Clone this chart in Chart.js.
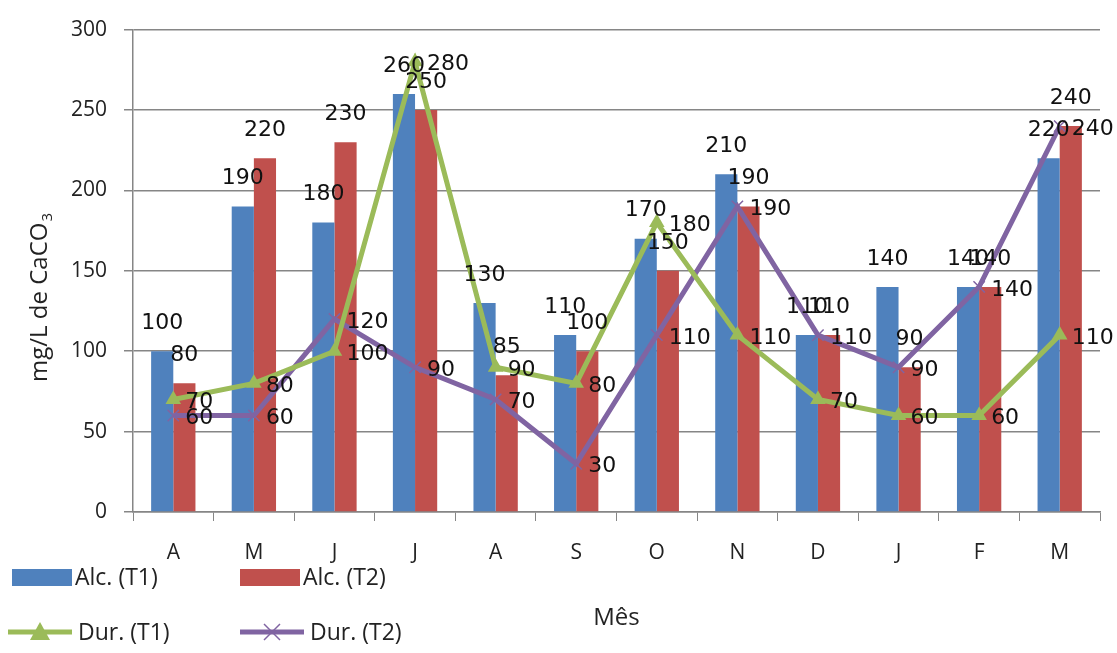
<!DOCTYPE html>
<html>
<head>
<meta charset="utf-8">
<script src="https://cdn.jsdelivr.net/npm/chart.js@4.4.0/dist/chart.umd.min.js"></script>
<style>
  html, body { margin: 0; padding: 0; background: #fff; }
  #wrap { width: 1117px; height: 653px; }
</style>
</head>
<body>
<div id="wrap"><canvas id="chart"></canvas></div>
<script>
// Data
const months = ["A", "M", "J", "J", "A", "S", "O", "N", "D", "J", "F", "M"];
const alcT1 = [100, 190, 180, 260, 130, 110, 170, 210, 110, 140, 140, 220];
const alcT2 = [80, 220, 230, 250, 85, 100, 150, 190, 110, 90, 140, 240];
const durT1 = [70, 80, 100, 280, 90, 80, 180, 110, 70, 60, 60, 110];
const durT2 = [60, 60, 120, 90, 70, 30, 110, 190, 110, 90, 140, 240];
const seriesNames = ["Alc. (T1)", "Alc. (T2)", "Dur. (T1)", "Dur. (T2)"];

const BLUE = "#4F81BD", RED = "#C0504D", GREEN = "#9BBB59", PURPLE = "#8064A2";
const AXIS_FONT = '"Open Sans", "Liberation Sans", sans-serif';
const LABEL_FONT = '"DejaVu Sans", Verdana, sans-serif';

// value labels: above bars, right of line points
const valueLabels = {
  id: "valueLabels",
  afterDatasetsDraw(chart) {
    const ctx = chart.ctx;
    ctx.save();
    ctx.font = "22px " + LABEL_FONT;
    ctx.fillStyle = "#111";
    chart.data.datasets.forEach((ds, i) => {
      const meta = chart.getDatasetMeta(i);
      meta.data.forEach((el, j) => {
        const v = ds.data[j];
        ctx.textBaseline = "middle";
        if (ds.type === "bar") {
          ctx.textAlign = "center";
          ctx.fillText(v, el.x, el.y - 28);
        } else {
          ctx.textAlign = "left";
          ctx.fillText(v, el.x + 12, el.y + 3);
        }
      });
    });
    ctx.restore();
  }
};

// y title with real subscript + legend in 2x2 grid at bottom left
const extras = {
  id: "extras",
  afterDraw(chart) {
    const ctx = chart.ctx;
    ctx.save();

    // y axis title
    ctx.translate(40, 298);
    ctx.rotate(-Math.PI / 2);
    ctx.fillStyle = "#222";
    ctx.textBaseline = "middle";
    ctx.font = "24px " + AXIS_FONT;
    const main = "mg/L de CaCO";
    const w1 = ctx.measureText(main).width;
    ctx.font = "15px " + AXIS_FONT;
    const w2 = ctx.measureText("3").width;
    const start = -(w1 + w2) / 2;
    ctx.font = "24px " + AXIS_FONT;
    ctx.textAlign = "left";
    ctx.fillText(main, start, 0);
    ctx.font = "15px " + AXIS_FONT;
    ctx.fillText("3", start + w1 + 1, 8);
    ctx.setTransform(1, 0, 0, 1, 0, 0);

    // legend
    ctx.font = "23px " + AXIS_FONT;
    ctx.textAlign = "left";
    ctx.textBaseline = "middle";
    const items = [
      { kind: "box", color: BLUE, x: 12, y: 577 },
      { kind: "box", color: RED, x: 240, y: 577 },
      { kind: "tri", color: GREEN, x: 8, y: 632 },
      { kind: "cross", color: PURPLE, x: 240, y: 632 }
    ];
    items.forEach((it, k) => {
      if (it.kind === "box") {
        ctx.fillStyle = it.color;
        ctx.fillRect(it.x, it.y - 8, 60, 17);
      } else {
        ctx.strokeStyle = it.color;
        ctx.lineWidth = 5;
        ctx.beginPath();
        ctx.moveTo(it.x, it.y);
        ctx.lineTo(it.x + 64, it.y);
        ctx.stroke();
        const cx = it.x + 32;
        if (it.kind === "tri") {
          ctx.fillStyle = it.color;
          ctx.beginPath();
          ctx.moveTo(cx, it.y - 10);
          ctx.lineTo(cx + 10, it.y + 8);
          ctx.lineTo(cx - 10, it.y + 8);
          ctx.closePath();
          ctx.fill();
        } else {
          ctx.lineWidth = 1.5;
          ctx.beginPath();
          ctx.moveTo(cx - 8, it.y - 8); ctx.lineTo(cx + 8, it.y + 8);
          ctx.moveTo(cx + 8, it.y - 8); ctx.lineTo(cx - 8, it.y + 8);
          ctx.stroke();
        }
      }
      ctx.fillStyle = "#222";
      ctx.fillText(seriesNames[k], it.x + (it.kind === "box" ? 63 : 70), it.y + 1);
    });
    ctx.restore();
  }
};

new Chart(document.getElementById("chart"), {
  data: {
    labels: months,
    datasets: [
      { type: "line", label: seriesNames[2], data: durT1, borderColor: GREEN, backgroundColor: GREEN,
        borderWidth: 5, pointStyle: "triangle", pointRadius: 9, pointBorderWidth: 0, tension: 0, order: 0 },
      { type: "line", label: seriesNames[3], data: durT2, borderColor: PURPLE, backgroundColor: PURPLE,
        borderWidth: 5, pointStyle: "crossRot", pointRadius: 8, pointBorderWidth: 1.5, tension: 0, order: 1 },
      { type: "bar", label: seriesNames[0], data: alcT1, backgroundColor: BLUE, order: 2,
        categoryPercentage: 0.55, barPercentage: 1.0 },
      { type: "bar", label: seriesNames[1], data: alcT2, backgroundColor: RED, order: 3,
        categoryPercentage: 0.55, barPercentage: 1.0 }
    ]
  },
  options: {
    responsive: true,
    maintainAspectRatio: false,
    animation: false,
    layout: { padding: { top: 20, right: 17, left: 0, bottom: 0 } },
    plugins: {
      legend: { display: false },
      tooltip: { enabled: false }
    },
    scales: {
      x: {
        offset: true,
        grid: { display: true, drawOnChartArea: false, drawTicks: true, tickLength: 9, offset: true, color: "#868686" },
        border: { display: true, color: "#868686", width: 1.5 },
        ticks: { color: "#222", font: { family: AXIS_FONT, size: 21 }, padding: 19, maxRotation: 0, autoSkip: false },
        title: { display: true, text: "Mês", color: "#222", font: { family: AXIS_FONT, size: 24 }, padding: { top: 0, bottom: 20 } },
        afterFit(scale) { scale.height = 141; }
      },
      y: {
        min: 0,
        max: 300,
        ticks: { stepSize: 50, color: "#222", font: { family: AXIS_FONT, size: 21 }, padding: 17 },
        grid: { color: "#868686", lineWidth: 1.5, tickLength: 9, drawTicks: true },
        border: { display: true, color: "#868686", width: 1.5 },
        afterFit(scale) { scale.width = 133; }
      }
    }
  },
  plugins: [valueLabels, extras]
});
</script>
</body>
</html>
